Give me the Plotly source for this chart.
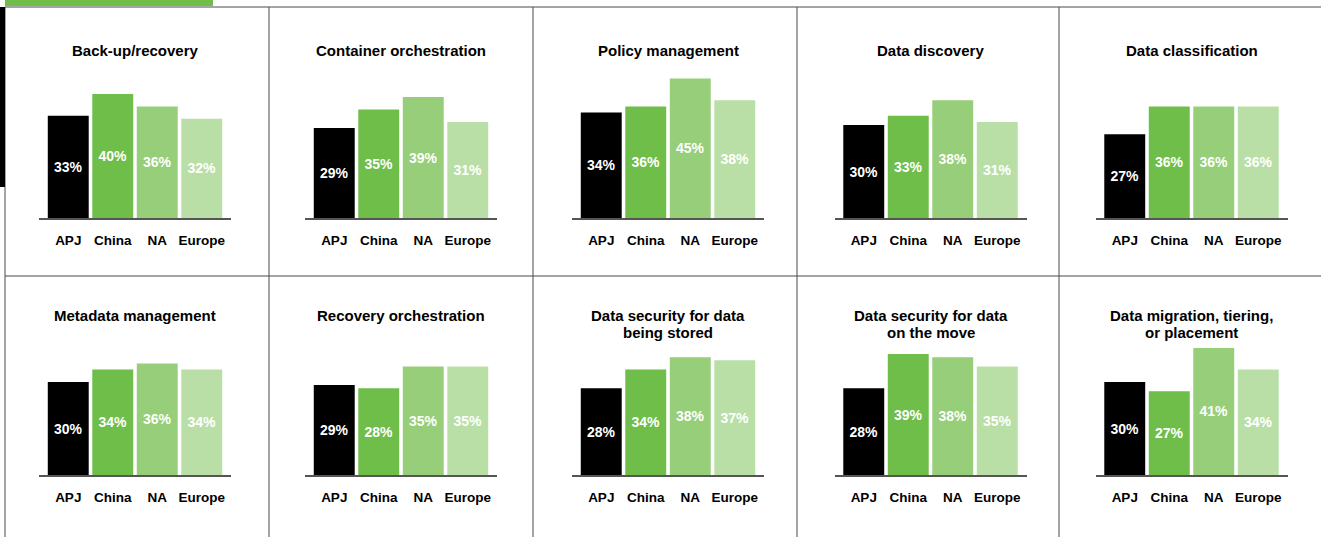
import plotly.graph_objects as go

categories = ["APJ", "China", "NA", "Europe"]
titles = [
    "Back-up/recovery", "Container orchestration", "Policy management",
    "Data discovery", "Data classification",
    "Metadata management", "Recovery orchestration",
    "Data security for data<br>being stored", "Data security for data<br>on the move",
    "Data migration, tiering,<br>or placement",
]
apj = [33, 29, 34, 30, 27, 30, 29, 28, 28, 30]
china = [40, 35, 36, 33, 36, 34, 28, 34, 39, 27]
na = [36, 39, 45, 38, 36, 36, 35, 38, 38, 41]
europe = [32, 31, 38, 31, 36, 34, 35, 37, 35, 34]

colors = ["#000000", "#6fbe4a", "#96ce79", "#b9dfa7"]
W, H = 1321, 537
FONT = "Liberation Sans, Arial, sans-serif"

fig = go.Figure()
layout = dict(
    width=W, height=H, margin=dict(l=0, r=0, t=0, b=0),
    paper_bgcolor="white", plot_bgcolor="white", showlegend=False,
    bargap=0.08, font=dict(family=FONT, color="black"),
)

panel_edges = [5, 269, 533, 797, 1059]
panel_centers = [135, 401, 668, 930.5, 1191.5]
axis_half = 96
pitch = 44.5
baselines = [218, 475]
px_per_pct = 3.1
yrange_max = 50
title_tops = [40, 305]
line_step = 17
annotations = []

for i in range(10):
    row, col = divmod(i, 5)
    n = i + 1
    xs = "" if n == 1 else str(n)
    vals = [apj[i], china[i], na[i], europe[i]]
    fig.add_trace(go.Bar(
        x=categories, y=vals, xaxis="x" + xs, yaxis="y" + xs,
        marker=dict(color=colors, line=dict(width=0)),
        text=[f"{v}%" for v in vals], textposition="inside",
        insidetextanchor="middle",
        textfont=dict(family=FONT, size=14, color="white", weight="bold"),
        hoverinfo="skip",
    ))
    cx = panel_centers[col]
    x0 = (cx - axis_half) / W
    x1 = (cx + axis_half) / W
    base = baselines[row]
    top = base - px_per_pct * yrange_max
    layout["xaxis" + xs] = dict(
        domain=[x0, x1], anchor="y" + xs, type="category",
        range=[1.5 - axis_half / pitch, 1.5 + axis_half / pitch],
        showline=True, linecolor="#555555", linewidth=1.5,
        showgrid=False, zeroline=False, ticks="", ticklabelstandoff=9,
        tickfont=dict(family=FONT, size=13.5, color="black", weight="bold"),
        fixedrange=True,
    )
    layout["yaxis" + xs] = dict(
        domain=[(H - base) / H, (H - top) / H], anchor="x" + xs,
        range=[0, yrange_max], visible=False, fixedrange=True,
    )
    for j, line in enumerate(titles[i].split("<br>")):
        ty = title_tops[row] + j * line_step
        annotations.append(dict(
            x=cx / W, y=(H - ty) / H, xref="paper", yref="paper",
            xanchor="center", yanchor="top", showarrow=False,
            text=line,
            font=dict(family=FONT, size=15, color="black", weight="bold"),
        ))

layout["annotations"] = annotations

shapes = []
line_col = "#4a4a4a"
def px_line(xa, ya, xb, yb, color=line_col, width=1):
    shapes.append(dict(type="line", xref="paper", yref="paper",
                       x0=xa / W, x1=xb / W, y0=(H - ya) / H, y1=(H - yb) / H,
                       line=dict(color=color, width=width)))

# grid borders
px_line(5, 7, W, 7)
px_line(5, 276, W, 276)
for x in panel_edges:
    px_line(x, 7, x, H)
# accent bars
shapes.append(dict(type="rect", xref="paper", yref="paper",
                   x0=5 / W, x1=213 / W, y0=(H - 6) / H, y1=1,
                   fillcolor="#6fbe4a", line=dict(width=0)))
shapes.append(dict(type="rect", xref="paper", yref="paper",
                   x0=0, x1=5 / W, y0=(H - 187) / H, y1=(H - 7) / H,
                   fillcolor="#000000", line=dict(width=0)))
layout["shapes"] = shapes

fig.update_layout(**layout)
fig.write_html("out.html", config={"displayModeBar": False},
               post_script="document.body.style.margin='0';document.body.style.overflow='hidden';")
